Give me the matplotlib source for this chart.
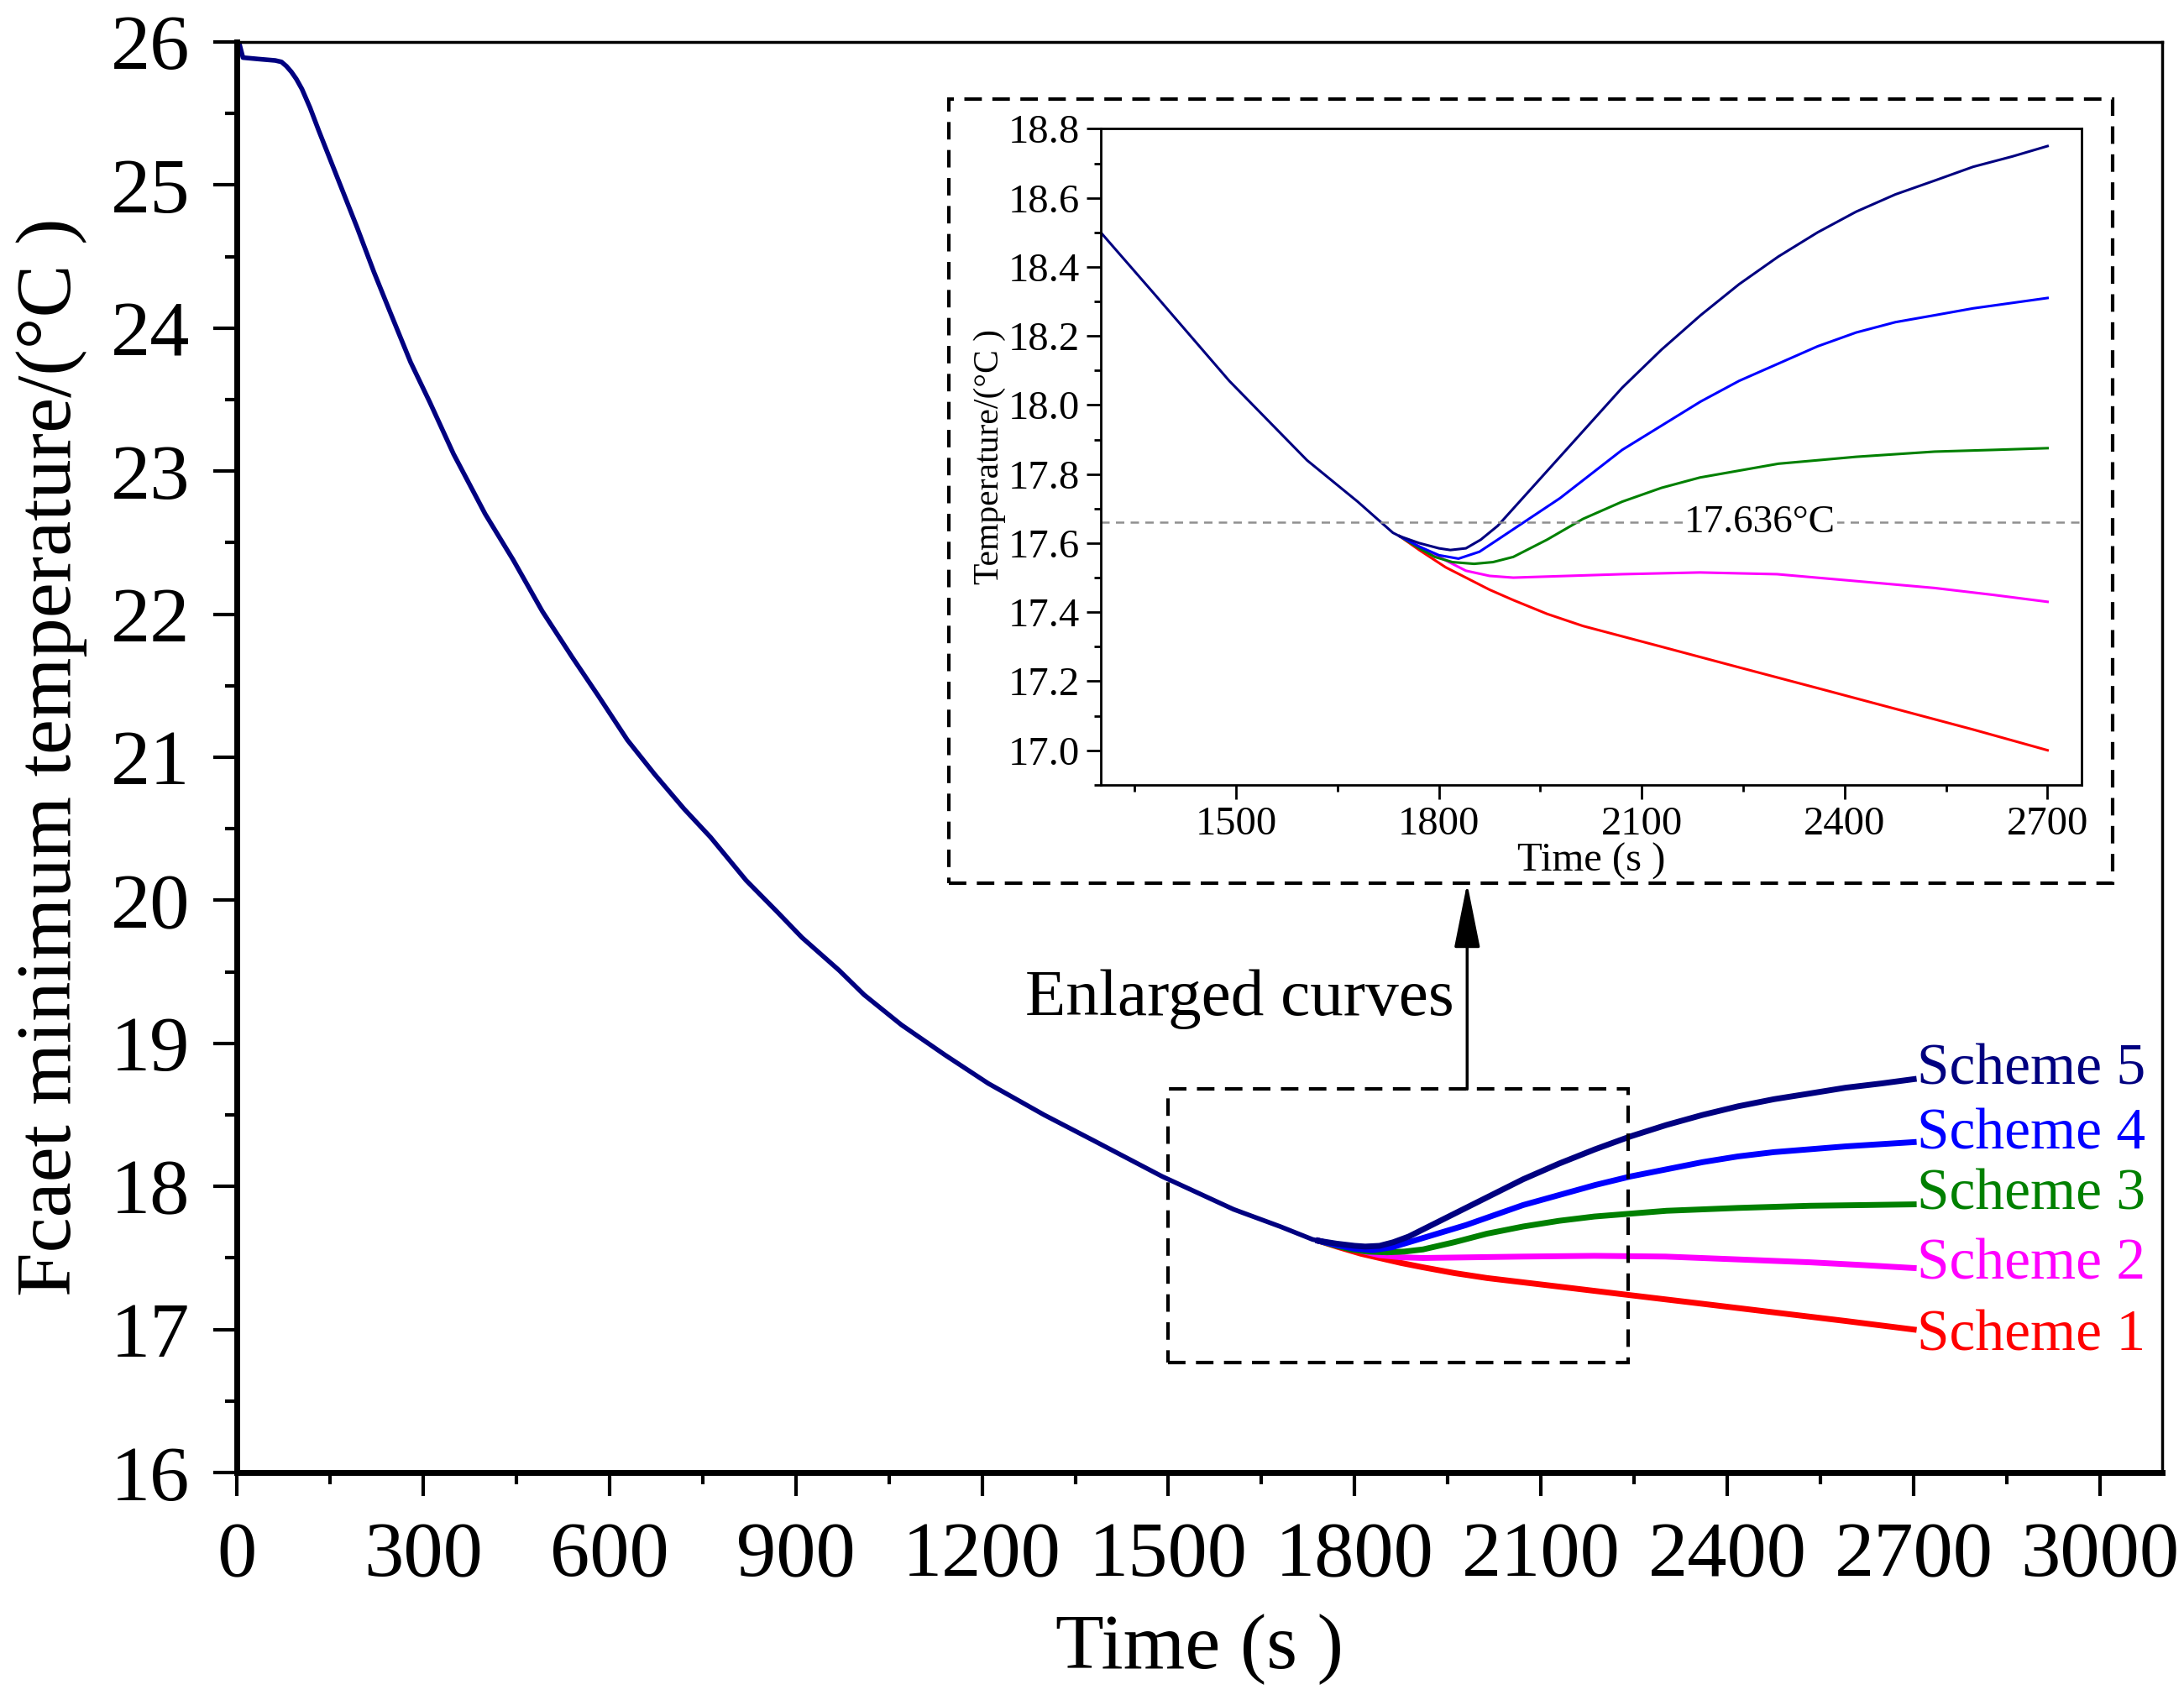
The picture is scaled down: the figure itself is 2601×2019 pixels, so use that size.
import matplotlib
matplotlib.use("Agg")
from matplotlib import pyplot as plt
from matplotlib.patches import Rectangle
from matplotlib.ticker import MultipleLocator

plt.rcParams['font.family'] = ['Liberation Serif', 'DejaVu Serif']

# common part of the curve (all schemes identical up to ~1742 s)
t_common = [0, 4, 10, 35, 62, 72, 80, 88, 96, 105, 118, 132, 163, 194, 221, 248, 280, 311, 349,
            400, 445, 492, 540, 582, 629, 673, 720, 763, 820, 870, 910, 970, 1010, 1070, 1140,
            1210, 1300, 1380, 1490, 1605, 1680, 1732, 1742]
T_common = [26.0, 25.99, 25.89, 25.88, 25.87, 25.86, 25.83, 25.79, 25.74, 25.67, 25.54, 25.38,
            25.04, 24.70, 24.39, 24.10, 23.76, 23.48, 23.12, 22.70, 22.38, 22.02, 21.70, 21.43,
            21.12, 20.88, 20.64, 20.44, 20.14, 19.92, 19.74, 19.51, 19.34, 19.13, 18.92, 18.72,
            18.50, 18.32, 18.07, 17.84, 17.72, 17.63, 17.62]

# branches
t_s1 = [1742, 1771, 1810, 1840, 1875, 1910, 1960, 2013, 2071, 2129, 2244, 2360, 2475, 2590, 2700]
T_s1 = [17.62, 17.58, 17.53, 17.50, 17.465, 17.435, 17.395, 17.36, 17.33, 17.30, 17.24, 17.18,
        17.12, 17.06, 17.00]
t_s2 = [1742, 1771, 1810, 1840, 1875, 1910, 1990, 2071, 2186, 2300, 2417, 2533, 2620, 2700]
T_s2 = [17.62, 17.59, 17.55, 17.52, 17.505, 17.50, 17.505, 17.51, 17.515, 17.51, 17.49, 17.47,
        17.45, 17.43]
t_s3 = [1742, 1771, 1794, 1820, 1852, 1880, 1910, 1960, 2013, 2071, 2129, 2186, 2244, 2302,
        2360, 2417, 2533, 2620, 2700]
T_s3 = [17.62, 17.585, 17.56, 17.545, 17.54, 17.545, 17.56, 17.61, 17.67, 17.72, 17.76, 17.79,
        17.81, 17.83, 17.84, 17.85, 17.865, 17.87, 17.875]
t_s4 = [1742, 1771, 1800, 1829, 1860, 1887, 1933, 1979, 2025, 2071, 2129, 2187, 2244, 2302,
        2360, 2417, 2475, 2533, 2590, 2700]
T_s4 = [17.62, 17.59, 17.565, 17.555, 17.575, 17.61, 17.67, 17.73, 17.80, 17.87, 17.94, 18.01,
        18.07, 18.12, 18.17, 18.21, 18.24, 18.26, 18.28, 18.31]
t_s5 = [1742, 1771, 1800, 1817, 1840, 1862, 1887, 1933, 1979, 2025, 2071, 2129, 2187, 2244,
        2302, 2360, 2417, 2475, 2533, 2590, 2648, 2700]
T_s5 = [17.62, 17.60, 17.585, 17.58, 17.585, 17.61, 17.65, 17.75, 17.85, 17.95, 18.05, 18.16,
        18.26, 18.35, 18.43, 18.50, 18.56, 18.61, 18.65, 18.69, 18.72, 18.75]

schemes = ['Scheme 1', 'Scheme 2', 'Scheme 3', 'Scheme 4', 'Scheme 5']
colors = ['#ff0000', '#ff00ff', '#008000', '#0000ff', '#000080']
label_y = [16.95, 17.45, 17.94, 18.36, 18.81]
ref_temp = 17.66
ref_text = '17.636°C'

branches = [(t_s1, T_s1), (t_s2, T_s2), (t_s3, T_s3), (t_s4, T_s4), (t_s5, T_s5)]

fig = plt.figure(figsize=(26.01, 20.19), dpi=100)
ax = fig.add_axes([0.1084, 0.1312, 0.8816, 0.8441])

for (tt, TT), c in zip(branches, colors):
    ax.plot(tt, TT, color=c, lw=5)
ax.plot(t_common, T_common, color='#000080', lw=4)

for name, c, y in zip(schemes, colors, label_y):
    ax.text(2705, y, name, color=c, fontsize=50, ha='left', va='center')

ax.set_xlim(0, 3100)
ax.set_ylim(16, 26)
ax.xaxis.set_major_locator(MultipleLocator(300))
ax.xaxis.set_minor_locator(MultipleLocator(150))
ax.yaxis.set_major_locator(MultipleLocator(1))
ax.yaxis.set_minor_locator(MultipleLocator(0.5))
ax.set_xticks(range(0, 3001, 300))
ax.tick_params(which='both', direction='out', top=False, right=False, width=3)
ax.tick_params(which='major', length=20, labelsize=68)
ax.tick_params(which='minor', length=10)
ax.tick_params(axis='x', which='major', pad=22)
ax.tick_params(axis='y', which='major', pad=20)
ax.spines['left'].set_linewidth(5)
ax.spines['bottom'].set_linewidth(5)
ax.spines['top'].set_linewidth(2.5)
ax.spines['right'].set_linewidth(2.5)
ax.set_xlabel('Time (s )', fontsize=68, labelpad=18)
ax.set_ylabel('Fcaet minimum temperature/(°C )', fontsize=68, labelpad=20)

# zoom rectangle, box round the inset and the arrow
ax.add_patch(Rectangle((1500, 16.77), 740, 1.91, fill=False, ec='black', lw=3,
                       ls=(0, (5, 3)), zorder=5))
ax.add_patch(Rectangle((1147, 20.12), 1873, 5.48, fill=True, fc='white', ec='black', lw=3,
                       ls=(0, (5, 3)), zorder=5))
ax.annotate('', xy=(1981, 20.12), xytext=(1981, 18.68),
            arrowprops=dict(arrowstyle='-|>,head_length=0.6,head_width=0.12', color='black',
                            lw=2.5, mutation_scale=80, shrinkA=0, shrinkB=0), zorder=6)
ax.text(1960, 19.31, 'Enlarged curves', fontsize=57, ha='right', va='center')

# inset
axi = fig.add_axes([0.504, 0.537, 0.449, 0.387])
for (tt, TT), c in zip(branches, colors):
    axi.plot(tt, TT, color=c, lw=2.2)
axi.plot(t_common, T_common, color='#000080', lw=2.2)
axi.axhline(ref_temp, color='#909090', lw=1.8, ls=(0, (4, 3)))
axi.text(2275, ref_temp, ref_text, fontsize=34, ha='center', va='center',
         bbox=dict(fc='white', ec='none', pad=1))
axi.set_xlim(1300, 2750)
axi.set_ylim(16.9, 18.8)
axi.set_xticks([1500, 1800, 2100, 2400, 2700])
axi.xaxis.set_minor_locator(MultipleLocator(150))
axi.yaxis.set_major_locator(MultipleLocator(0.2))
axi.yaxis.set_minor_locator(MultipleLocator(0.1))
axi.yaxis.set_major_formatter(matplotlib.ticker.FormatStrFormatter('%.1f'))
axi.tick_params(which='both', direction='out', top=False, right=False, width=2)
axi.tick_params(which='major', length=12, labelsize=35, pad=6)
axi.tick_params(which='minor', length=6)
for s in axi.spines.values():
    s.set_linewidth(2)
axi.set_xlabel('Time (s )', fontsize=35, labelpad=0)
axi.set_ylabel('Temperature/(°C )', fontsize=30, labelpad=2)

fig.savefig('out.png', dpi=100)
